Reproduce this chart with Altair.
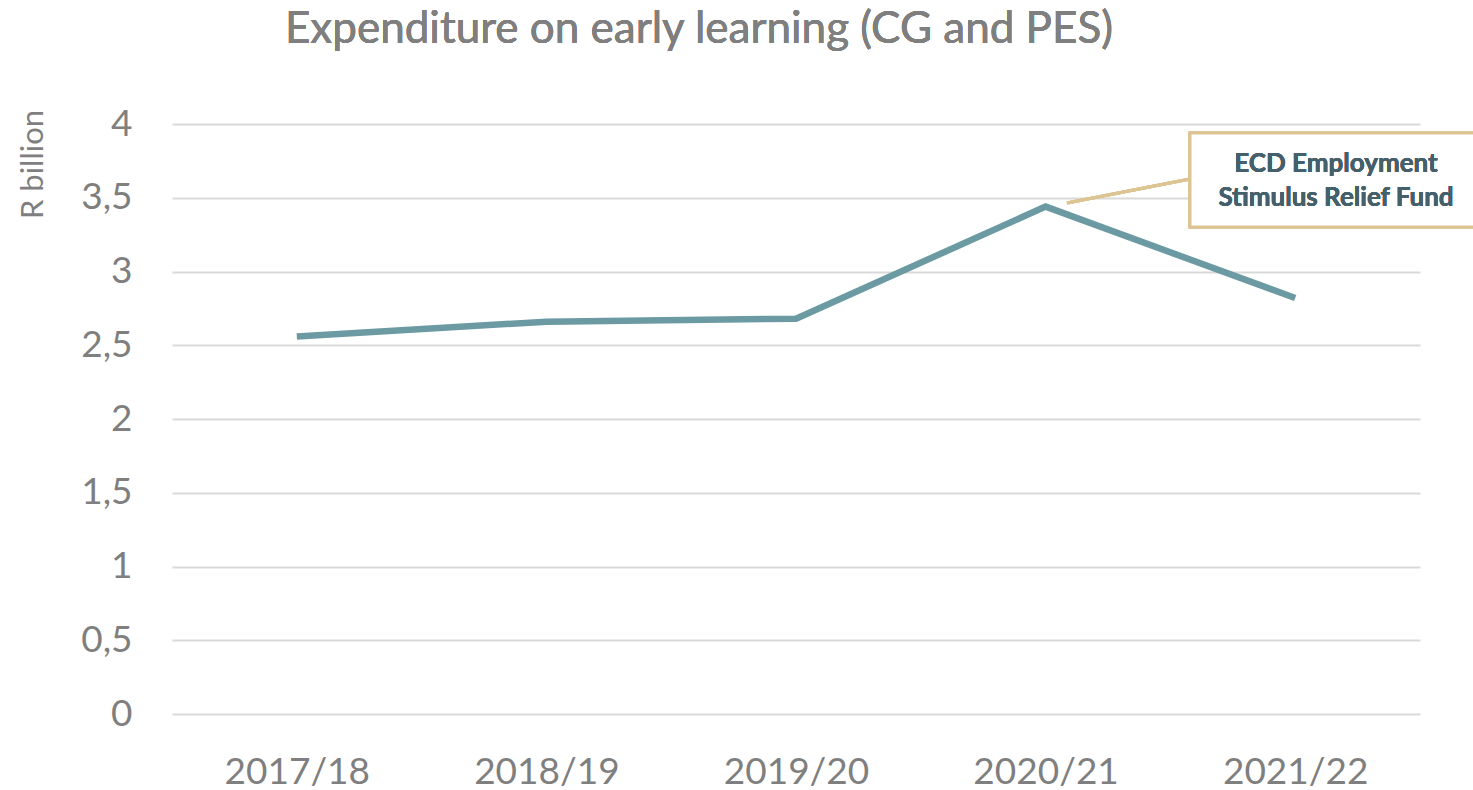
import altair as alt
import pandas as pd

years = ["2017/18", "2018/19", "2019/20", "2020/21", "2021/22"]
values = [2.56, 2.66, 2.68, 3.44, 2.82]
y_ticks = [0, 0.5, 1, 1.5, 2, 2.5, 3, 3.5, 4]

title_text = "Expenditure on early learning (CG and PES)"
y_title = "R billion"
note_lines = ["ECD Employment", "Stimulus Relief Fund"]

df = pd.DataFrame({"year": years, "value": values})

FONT = "Lato"
GRAY = "#7f7f7f"
LINE = "#6b9aa2"
TAN = "#dcc593"
NOTE = "#46606b"

W, H = 1248, 590
PL, PT = 172, 124

base = alt.Chart(df)

line = base.mark_line(color=LINE, strokeWidth=6.5, strokeJoin="miter").encode(
    x=alt.X("year:N", sort=years, title=None,
            axis=alt.Axis(labelAngle=0, labelFont=FONT, labelFontSize=37,
                          labelColor=GRAY, ticks=False, tickSize=0, domain=False,
                          grid=False, labelPadding=69, labelBaseline="alphabetic")),
    y=alt.Y("value:Q", scale=alt.Scale(domain=[0, 4], nice=False, zero=True),
            axis=alt.Axis(values=y_ticks, labelExpr="replace('' + datum.value, '.', ',')",
                          labelFont=FONT, labelFontSize=37, labelColor=GRAY,
                          ticks=False, tickSize=0, domain=False, grid=True,
                          gridColor="#d9d9d9", gridWidth=2, labelPadding=40,
                          title=y_title, titleFont=FONT, titleFontSize=31,
                          titleFontWeight="normal", titleColor=GRAY,
                          titleX=33 - PL, titleY=164 - PT, titleAlign="center",
                          titleBaseline="middle", titleAngle=270)),
)

leader = base.mark_rule(color=TAN, strokeWidth=3).encode(
    x=alt.value(1067 - PL), x2=alt.value(1190 - PL),
    y=alt.value(203 - PT), y2=alt.value(179 - PT),
)

box = base.mark_rect(fill="white", stroke=TAN, strokeWidth=3).encode(
    x=alt.value(1190 - PL), x2=alt.value(1478 - PL),
    y=alt.value(133 - PT), y2=alt.value(227 - PT),
)

note = base.mark_text(font=FONT, fontSize=26, fontWeight="bold", color=NOTE,
                      align="center", baseline="middle", lineHeight=34).encode(
    x=alt.value(1336 - PL), y=alt.value(164 - PT), text=alt.value(note_lines),
)

title = base.mark_text(font=FONT, fontSize=44, color=GRAY, align="center",
                       baseline="alphabetic").encode(
    x=alt.value(699 - PL), y=alt.value(43 - PT), text=alt.value(title_text),
)

chart = alt.layer(line, leader, box, note, title).properties(
    width=W, height=H,
    background="white",
    autosize=alt.AutoSizeParams(type="none"),
    padding={"left": PL, "top": PT, "right": 1473 - PL - W, "bottom": 790 - PT - H},
).configure_view(strokeWidth=0)

chart.save("out.html", embed_options={"renderer": "svg", "actions": False})
